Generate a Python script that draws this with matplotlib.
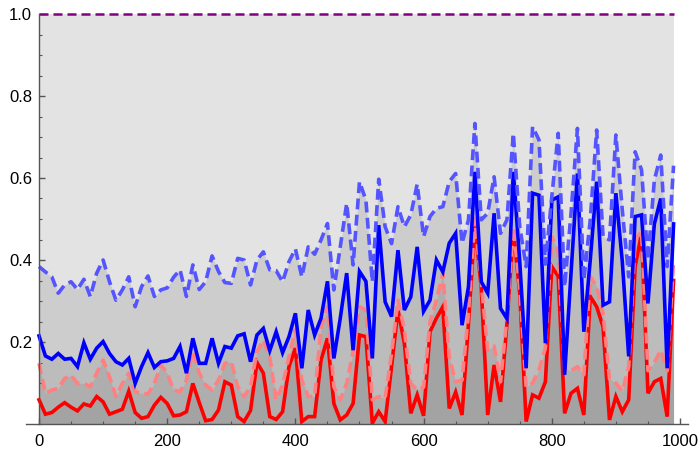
import numpy as np
import matplotlib
matplotlib.use("Agg")
import matplotlib.pyplot as plt
from matplotlib.ticker import MultipleLocator, FormatStrFormatter

plt.rcParams["font.family"] = ["Liberation Sans", "DejaVu Sans"]

x = np.arange(0, 1000, 10)

upper_blue = [
    0.384, 0.371, 0.359, 0.319, 0.339, 0.347, 0.328, 0.353, 0.311, 0.368,
    0.400, 0.347, 0.302, 0.327, 0.359, 0.286, 0.335, 0.361, 0.311, 0.327,
    0.332, 0.358, 0.376, 0.311, 0.388, 0.328, 0.347, 0.410, 0.372, 0.345,
    0.343, 0.404, 0.400, 0.339, 0.400, 0.420, 0.376, 0.374, 0.347, 0.396,
    0.427, 0.359, 0.432, 0.414, 0.449, 0.489, 0.327, 0.432, 0.538, 0.388,
    0.591, 0.546, 0.347, 0.597, 0.481, 0.440, 0.530, 0.481, 0.510, 0.585,
    0.457, 0.506, 0.526, 0.530, 0.591, 0.611, 0.441, 0.498, 0.733, 0.498,
    0.514, 0.603, 0.465, 0.498, 0.709, 0.481, 0.384, 0.725, 0.693, 0.390,
    0.554, 0.709, 0.335, 0.514, 0.721, 0.351, 0.498, 0.717, 0.457, 0.449,
    0.705, 0.522, 0.359, 0.664, 0.620, 0.400, 0.595, 0.656, 0.384, 0.630,
]

blue = [
    0.215, 0.166, 0.158, 0.172, 0.158, 0.160, 0.140, 0.198, 0.158, 0.185,
    0.201, 0.172, 0.152, 0.144, 0.160, 0.099, 0.140, 0.174, 0.138, 0.152,
    0.154, 0.160, 0.189, 0.124, 0.209, 0.148, 0.148, 0.209, 0.148, 0.189,
    0.185, 0.215, 0.220, 0.152, 0.217, 0.233, 0.179, 0.225, 0.174, 0.213,
    0.270, 0.136, 0.278, 0.217, 0.258, 0.348, 0.160, 0.258, 0.368, 0.180,
    0.372, 0.348, 0.160, 0.485, 0.298, 0.262, 0.424, 0.278, 0.310, 0.432,
    0.275, 0.302, 0.400, 0.371, 0.441, 0.465, 0.241, 0.335, 0.615, 0.347,
    0.319, 0.514, 0.282, 0.257, 0.615, 0.396, 0.136, 0.563, 0.558, 0.197,
    0.546, 0.554, 0.120, 0.368, 0.611, 0.225, 0.400, 0.591, 0.290, 0.298,
    0.563, 0.396, 0.165, 0.506, 0.510, 0.294, 0.488, 0.550, 0.136, 0.488,
]

upper_red = [
    0.148, 0.075, 0.083, 0.087, 0.111, 0.119, 0.099, 0.099, 0.091, 0.124,
    0.156, 0.115, 0.067, 0.099, 0.124, 0.079, 0.075, 0.073, 0.099, 0.144,
    0.124, 0.083, 0.079, 0.107, 0.176, 0.124, 0.095, 0.083, 0.107, 0.148,
    0.152, 0.091, 0.067, 0.091, 0.176, 0.205, 0.164, 0.059, 0.095, 0.164,
    0.230, 0.107, 0.067, 0.067, 0.237, 0.286, 0.091, 0.059, 0.099, 0.177,
    0.286, 0.278, 0.059, 0.067, 0.063, 0.172, 0.302, 0.229, 0.099, 0.083,
    0.090, 0.250, 0.302, 0.368, 0.164, 0.103, 0.107, 0.270, 0.500, 0.343,
    0.180, 0.190, 0.103, 0.260, 0.480, 0.330, 0.090, 0.100, 0.132, 0.185,
    0.457, 0.420, 0.135, 0.130, 0.140, 0.120, 0.360, 0.335, 0.270, 0.110,
    0.100, 0.080, 0.140, 0.450, 0.470, 0.130, 0.150, 0.180, 0.130, 0.400,
]

red = [
    0.059, 0.024, 0.028, 0.041, 0.052, 0.041, 0.032, 0.049, 0.044, 0.067,
    0.054, 0.024, 0.030, 0.036, 0.080, 0.028, 0.014, 0.018, 0.046, 0.065,
    0.050, 0.020, 0.022, 0.030, 0.099, 0.052, 0.008, 0.011, 0.034, 0.103,
    0.095, 0.018, 0.006, 0.033, 0.150, 0.124, 0.018, 0.011, 0.030, 0.140,
    0.185, 0.006, 0.018, 0.018, 0.156, 0.209, 0.050, 0.010, 0.022, 0.050,
    0.217, 0.213, 0.002, 0.030, 0.006, 0.140, 0.278, 0.197, 0.026, 0.071,
    0.020, 0.225, 0.258, 0.286, 0.038, 0.078, 0.022, 0.245, 0.489, 0.331,
    0.022, 0.144, 0.054, 0.245, 0.473, 0.319, 0.006, 0.071, 0.063, 0.103,
    0.384, 0.360, 0.026, 0.075, 0.087, 0.022, 0.311, 0.286, 0.237, 0.010,
    0.067, 0.030, 0.059, 0.384, 0.465, 0.075, 0.103, 0.111, 0.018, 0.350,
]

ceiling = np.ones(len(x))

fig = plt.figure(figsize=(7, 4.49), dpi=100)
ax = fig.add_axes([26 / 700, 25 / 449, 662 / 700, 410 / 449])

# stacked translucent fills to the axis, like Filling -> Axis
fill_kw = dict(color="#808080", alpha=0.22, linewidth=0)
for series in (ceiling, upper_blue, blue, upper_red, red):
    ax.fill_between(x, 0, series, **fill_kw)

lw = 2.6
ax.plot(x, red, color="#ff0000", lw=lw, solid_joinstyle="miter")
ax.plot(x, upper_red, color="#ff8080", lw=lw, dashes=(3, 1.5))
ax.plot(x, blue, color="#0000ff", lw=lw, solid_joinstyle="miter")
ax.plot(x, upper_blue, color="#5555ff", lw=lw, dashes=(3, 1.5))
ax.plot(x, ceiling, color="#800080", lw=1.8, dashes=(3.6, 2.0), clip_on=False)

ax.set_xlim(-20.3, 1012.5)
ax.set_ylim(0, 1.0)

for s in ("top", "right"):
    ax.spines[s].set_visible(False)
ax.spines["left"].set_position(("data", 0))
for s in ("left", "bottom"):
    ax.spines[s].set_color("#555555")
    ax.spines[s].set_linewidth(1.0)

ax.xaxis.set_major_locator(MultipleLocator(200))
ax.xaxis.set_minor_locator(MultipleLocator(50))
ax.set_yticks([0.2, 0.4, 0.6, 0.8, 1.0])
ax.yaxis.set_minor_locator(MultipleLocator(0.05))
ax.yaxis.set_major_formatter(FormatStrFormatter("%.1f"))

ax.tick_params(which="both", direction="in", color="#555555", labelsize=12,
               labelcolor="black")
ax.tick_params(which="major", length=4, width=1.0)
ax.tick_params(which="minor", length=2.5, width=0.8)
ax.tick_params(axis="x", pad=7)
ax.tick_params(axis="y", pad=5)

fig.savefig("out.png", dpi=100, facecolor="white")
